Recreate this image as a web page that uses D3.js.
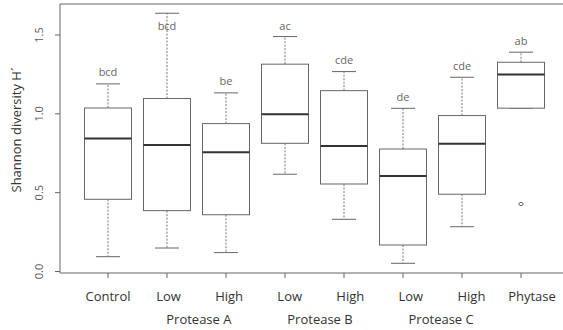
<!DOCTYPE html>
<html><head><meta charset="utf-8">
<script src="https://cdn.jsdelivr.net/npm/d3@7"></script>
<style>body{margin:0;background:#fff}svg{display:block}text{font-family:"Open Sans",sans-serif}</style>
</head><body><svg id="c" width="563" height="330"></svg>
<script>
const categories = ["Control","Low A","High A","Low B","High B","Low C","High C","Phytase"];
const tickLabels = ["Control","Low","High","Low","High","Low","High","Phytase"];
const groupLabels = ["Protease A","Protease B","Protease C"];
const groupMembers = [[1,2],[3,4],[5,6]];
const whiskerLow = [0.094,0.149,0.120,0.617,0.331,0.052,0.284,1.036];
const q1 =         [0.458,0.386,0.360,0.813,0.555,0.168,0.490,1.036];
const median =     [0.843,0.803,0.756,0.997,0.796,0.606,0.811,1.249];
const q3 =         [1.037,1.097,0.938,1.315,1.147,0.777,0.989,1.327];
const whiskerHigh =[1.190,1.638,1.133,1.490,1.268,1.035,1.232,1.391];
const outliers = [[],[],[],[],[],[],[],[0.428]];
const letters = ["bcd","bcd","be","ac","cde","de","cde","ab"];
const yTicks = [0,0.5,1.0,1.5];

const svg = d3.select("#c");
const pLeft=60, pRight=600, pTop=4, pBottom=273;
const y = d3.scaleLinear().domain([0,1.5]).range([271.5,35]);
const x = d3.scalePoint().domain(categories).range([108,521]);
const xl = d3.scalePoint().domain(categories).range([108,532]);
const bw = 47, cw = 24;
const gray="#666";

// frame
svg.append("line").attr("x1",pLeft).attr("x2",pRight).attr("y1",pTop).attr("y2",pTop).attr("stroke",gray);
svg.append("line").attr("x1",pLeft).attr("x2",pRight).attr("y1",pBottom).attr("y2",pBottom).attr("stroke",gray);
svg.append("line").attr("x1",pLeft).attr("x2",pLeft).attr("y1",pTop).attr("y2",pBottom).attr("stroke",gray);

// y axis
const yAxis = svg.append("g");
yTicks.forEach(t=>{
  yAxis.append("line").attr("x1",pLeft-5).attr("x2",pLeft).attr("y1",y(t)).attr("y2",y(t)).attr("stroke",gray);
  yAxis.append("text").attr("transform",`translate(43,${y(t)}) rotate(-90)`)
    .attr("text-anchor","middle").attr("font-size",11).attr("fill","#555").text(d3.format(".1f")(t));
});
svg.append("text").attr("transform","translate(21,130) rotate(-90)").attr("text-anchor","middle")
  .attr("font-size",13).attr("fill","#333").text("Shannon diversity H´");

// x ticks
categories.forEach((c,i)=>{
  svg.append("line").attr("x1",x(c)).attr("x2",x(c)).attr("y1",pBottom).attr("y2",pBottom+5).attr("stroke",gray);
  svg.append("text").attr("x",xl(c)).attr("y",301).attr("text-anchor","middle").attr("font-size",13)
    .attr("fill","#333").text(tickLabels[i]);
});
groupLabels.forEach((g,i)=>{
  const cx=(xl(categories[groupMembers[i][0]])+xl(categories[groupMembers[i][1]]))/2;
  svg.append("text").attr("x",cx).attr("y",324).attr("text-anchor","middle").attr("font-size",13)
    .attr("fill","#333").text(g);
});

// boxes
categories.forEach((c,i)=>{
  const cx=x(c);
  const g=svg.append("g");
  g.append("line").attr("x1",cx).attr("x2",cx).attr("y1",y(q3[i])).attr("y2",y(whiskerHigh[i]))
    .attr("stroke","#777").attr("stroke-dasharray","2,1.5");
  g.append("line").attr("x1",cx).attr("x2",cx).attr("y1",y(q1[i])).attr("y2",y(whiskerLow[i]))
    .attr("stroke","#777").attr("stroke-dasharray","2,1.5");
  [whiskerHigh[i],whiskerLow[i]].forEach(v=>g.append("line").attr("x1",cx-cw/2).attr("x2",cx+cw/2)
    .attr("y1",y(v)).attr("y2",y(v)).attr("stroke","#666"));
  g.append("rect").attr("x",cx-bw/2).attr("width",bw).attr("y",y(q3[i])).attr("height",y(q1[i])-y(q3[i]))
    .attr("fill","#fff").attr("stroke","#666");
  g.append("line").attr("x1",cx-bw/2).attr("x2",cx+bw/2).attr("y1",y(median[i])).attr("y2",y(median[i]))
    .attr("stroke","#333").attr("stroke-width",2);
  outliers[i].forEach(v=>g.append("ellipse").attr("cx",cx).attr("cy",y(v)).attr("rx",2.2).attr("ry",1.6)
    .attr("fill","none").attr("stroke","#666"));
  const ly=Math.max(y(whiskerHigh[i])-11.3, y(1.558));
  g.append("text").attr("x",cx).attr("y",ly).attr("dy","0.35em").attr("text-anchor","middle")
    .attr("font-size",11).attr("fill","#666").text(letters[i]);
});
</script></body></html>
